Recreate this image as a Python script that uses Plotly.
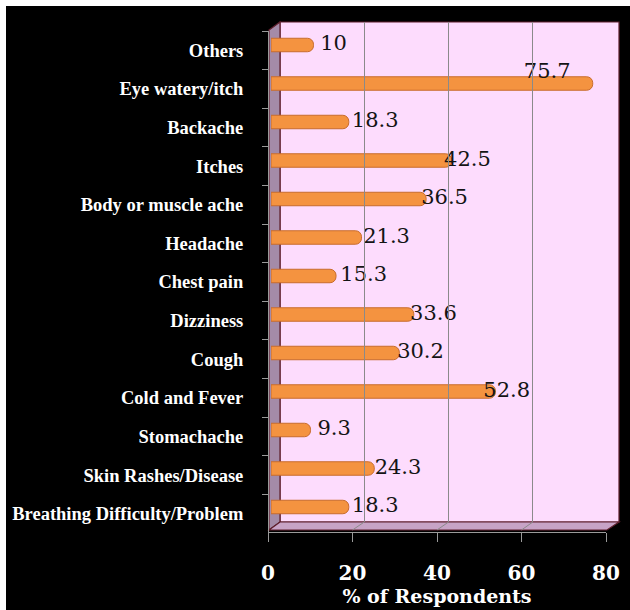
import plotly.graph_objects as go

categories = ["Others", "Eye watery/itch", "Backache", "Itches", "Body or muscle ache",
              "Headache", "Chest pain", "Dizziness", "Cough", "Cold and Fever",
              "Stomachache", "Skin Rashes/Disease", "Breathing Difficulty/Problem"]
values = [10, 75.7, 18.3, 42.5, 36.5, 21.3, 15.3, 33.6, 30.2, 52.8, 9.3, 24.3, 18.3]
x_ticks = [0, 20, 40, 60, 80]
grid_ticks = [20, 40, 60]
x_range = [0, 80]

# pixel -> paper helpers (plot area from px x 268..621, y 20..545)
FIG_W, FIG_H = 630, 610
L, R, T, B = 268, 621, 20, 545
W, H = R - L, B - T
def fx(px): return (px - L) / W
def fy(py): return (B - py) / H

n = len(categories)
cat_range = [n - 0.5, -0.5]
vmax = max(values)
label_pos = ["top left" if v == vmax else "middle right" for v in values]

fig = go.Figure()
fig.add_trace(go.Bar(
    y=categories, x=values, orientation="h", xaxis="x", yaxis="y", width=0.35,
    marker=dict(color="#f49340", line=dict(color="#c86c2c", width=1), cornerradius=6),
    showlegend=False, hoverinfo="skip"))
fig.add_trace(go.Scatter(
    y=categories, x=values, mode="text", text=[f"{v:g}" for v in values],
    textposition=label_pos, textfont=dict(family="DejaVu Serif", size=21, color="#141414"),
    xaxis="x3", yaxis="y", cliponaxis=False, showlegend=False, hoverinfo="skip"))
fig.add_trace(go.Scatter(x=[None] * n, y=categories, mode="markers", xaxis="x2", yaxis="y2",
                         showlegend=False, hoverinfo="skip"))
fig.add_trace(go.Scatter(x=[None], y=[None], mode="markers", xaxis="x4", yaxis="y3",
                         showlegend=False, hoverinfo="skip"))

maroon = "#5e1f2c"
shapes = [
    dict(type="rect", xref="paper", yref="paper", x0=fx(6), x1=fx(640), y0=fy(620), y1=fy(6),
         fillcolor="black", line=dict(width=0), layer="below"),
    dict(type="rect", xref="paper", yref="paper", x0=fx(280), x1=fx(619), y0=fy(522), y1=fy(22),
         fillcolor="#fddcfd", line=dict(color=maroon, width=1.2), layer="below"),
    dict(type="path", xref="paper", yref="paper",
         path=f"M {fx(269)},{fy(30)} L {fx(280)},{fy(22)} L {fx(280)},{fy(522)} L {fx(269)},{fy(530)} Z",
         fillcolor="#a48ba8", line=dict(color=maroon, width=1.2), layer="below"),
    dict(type="path", xref="paper", yref="paper",
         path=f"M {fx(269)},{fy(530)} L {fx(280)},{fy(522)} L {fx(619)},{fy(522)} L {fx(607)},{fy(530)} Z",
         fillcolor="#c7a3c6", line=dict(color=maroon, width=1.2), layer="below"),
]
for v in grid_ticks:
    bx = 280 + v * (617 - 280) / x_range[1]
    frx = 268 + v * (606 - 268) / x_range[1]
    shapes.append(dict(type="line", xref="paper", yref="paper", x0=fx(bx), y0=fy(522),
                       x1=fx(frx), y1=fy(530), line=dict(color="#8a8a8a", width=1), layer="below"))

fig.update_layout(
    width=FIG_W, height=FIG_H, autosize=False,
    margin=dict(l=L, r=FIG_W - R, t=T, b=FIG_H - B),
    paper_bgcolor="white", plot_bgcolor="rgba(0,0,0,0)",
    showlegend=False, shapes=shapes,
    xaxis=dict(domain=[fx(271), fx(611)], range=x_range, anchor="y", visible=False,
               automargin=False),
    yaxis=dict(domain=[fy(526.25), fy(25.75)], type="category", categoryorder="array",
               categoryarray=categories, range=cat_range, anchor="x", visible=False,
               automargin=False),
    xaxis3=dict(domain=[fx(282), fx(587)], range=x_range, anchor="y",
                visible=False, automargin=False),
    xaxis2=dict(domain=[fx(268), fx(606)], range=x_range, anchor="free", position=fy(532),
                tickvals=x_ticks, showgrid=False, zeroline=False, showline=True, automargin=False,
                linecolor="#9a9a9a", linewidth=1, ticks="outside", ticklen=9, tickcolor="#9a9a9a",
                ticklabelstandoff=14,
                tickfont=dict(family="DejaVu Serif", size=20, color="white", weight="bold"),
                title=dict(text="% of Respondents", standoff=3,
                           font=dict(family="DejaVu Serif", size=19, color="white", weight="bold"))),
    yaxis2=dict(domain=[fy(533), fy(31)], type="category", categoryorder="array",
                categoryarray=categories, range=cat_range, anchor="free", position=fx(268),
                showgrid=False, zeroline=False, showline=True, linecolor="#9a9a9a", linewidth=1,
                ticks="outside", ticklen=6, tickcolor="#9a9a9a", tickson="boundaries",
                ticklabelstandoff=21, automargin=False,
                tickfont=dict(family="Liberation Serif", size=18.5, color="white", weight="bold")),
    xaxis4=dict(domain=[fx(280), fx(617)], range=x_range, anchor="y3", tickvals=grid_ticks,
                showgrid=True, gridcolor="#8a8a8a", gridwidth=1, showticklabels=False,
                zeroline=False, showline=False, ticks="", automargin=False),
    yaxis3=dict(domain=[fy(522), fy(22)], range=[0, 1], anchor="x4", visible=False,
                automargin=False),
)

fig.write_html("out.html")
